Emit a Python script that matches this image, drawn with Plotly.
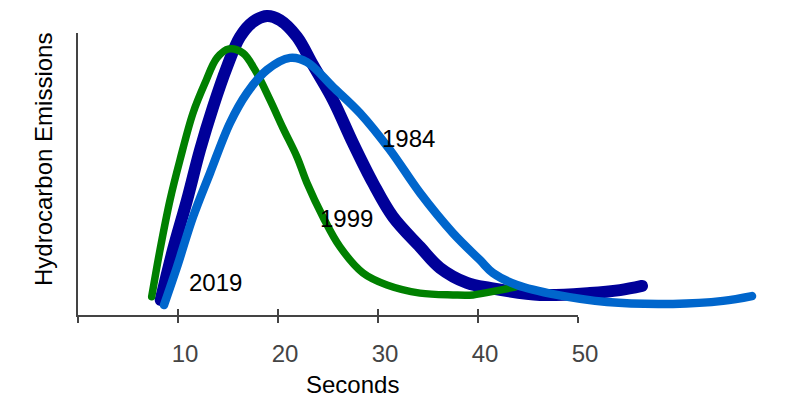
import plotly.graph_objects as go

# ---- data (seconds, emissions index) ----
x_2019 = [7.37, 8.2, 9.2, 10.2, 11.5, 12.7, 13.9, 15.1, 16.5, 17.7, 19.2, 20.5, 21.9, 22.9,
          24.5, 26.2, 28.5, 30.9, 34.2, 37.5, 39.5, 42.2, 43.7]
y_2019 = [6.1, 21.7, 38.3, 51.7, 67.3, 77.3, 85.7, 88.7, 87.3, 81.7, 71.7, 62.3, 52.7, 44,
          32.7, 22.7, 14, 10, 7.3, 6.7, 6.7, 8.3, 9.3]

x_1999 = [8.27, 9.5, 10.9, 12.2, 13.5, 14.9, 16.2, 17.5, 18.9, 20.2, 21.9, 23.5, 25.5, 27.5,
          29.5, 31.5, 34.2, 36.2, 38.9, 41.2, 46.2, 51.2, 54.2, 56.4]
y_1999 = [5, 21.7, 38.3, 55, 69.3, 82.7, 92.7, 97.7, 99.7, 98.3, 92.7, 83.3, 71.7, 57.3,
          44, 32.7, 22.7, 15.7, 10.7, 9, 6.7, 7.3, 8.3, 9.7]

x_1984 = [8.6, 9.9, 11.5, 13.2, 15.2, 16.9, 18.9, 21.2, 22.9, 25.5, 28.2, 31.2, 34.2, 37.5,
          40.2, 41.5, 43.9, 47.9, 52.9, 59.5, 64.5, 67.4]
y_1984 = [3.3, 16, 32.7, 47.3, 64, 74, 81.7, 85.7, 84.3, 76, 67.3, 55, 40.7, 27.3,
          18.3, 14, 10, 6.7, 4.3, 3.7, 4.7, 6.3]

tick_vals = [0, 10, 20, 30, 40, 50]
tick_text = ["", "10", "20", "30", "40", "50"]

labels = ["2019", "1999", "1984"]
label_x = [13.7, 26.85, 33.0]
label_y = [10.7, 32.3, 59.0]

FONT = "Liberation Sans, Arial, sans-serif"
AX = "#444444"

fig = go.Figure()
fig.add_trace(go.Scatter(x=x_1999, y=y_1999, mode="lines", line=dict(color="#000099", width=12, shape="spline", smoothing=1.0)))
fig.add_trace(go.Scatter(x=x_2019, y=y_2019, mode="lines", line=dict(color="#008000", width=7.5, shape="spline", smoothing=1.0)))
fig.add_trace(go.Scatter(x=x_1984, y=y_1984, mode="lines", line=dict(color="#0066CC", width=8.5, shape="spline", smoothing=1.0)))

for t, lx, ly in zip(labels, label_x, label_y):
    fig.add_annotation(x=lx, y=ly, xref="x", yref="y", text=t, showarrow=False,
                       xanchor="center", yanchor="middle",
                       font=dict(family=FONT, size=24, color="#000000"))

fig.add_annotation(x=352.5 / 800, y=(397 - 384) / 397, xref="paper", yref="paper", text="Seconds",
                   showarrow=False, xanchor="center", yanchor="middle",
                   font=dict(family=FONT, size=24, color="#000000"))
fig.add_annotation(x=44 / 800, y=(397 - 160) / 397, xref="paper", yref="paper", text="Hydrocarbon Emissions",
                   textangle=-90, showarrow=False, xanchor="center", yanchor="middle",
                   font=dict(family=FONT, size=24, color="#000000"))

AX_DOM_X = [78 / 800, 578 / 800]
AX_DOM_Y = [(397 - 315) / 397, (397 - 33) / 397]

fig.update_layout(
    width=800, height=397, autosize=False,
    margin=dict(l=0, r=0, t=0, b=0, autoexpand=False),
    paper_bgcolor="white", plot_bgcolor="rgba(0,0,0,0)",
    showlegend=False,
    xaxis=dict(domain=[0, 1], range=[-7.8, 72.2], visible=False, showgrid=False, zeroline=False),
    yaxis=dict(domain=[0, 1], range=[(315 - 397) / 3, 105], visible=False, showgrid=False, zeroline=False),
    xaxis2=dict(domain=AX_DOM_X, range=[0, 50], anchor="y2",
                showline=True, linecolor=AX, linewidth=2, showgrid=False, zeroline=False,
                ticks="outside", ticklen=6, tickwidth=2, tickcolor=AX,
                tickmode="array", tickvals=tick_vals, ticktext=tick_text,
                tickfont=dict(family=FONT, size=24, color=AX), ticklabelshift=7, ticklabelstandoff=10),
    xaxis3=dict(domain=AX_DOM_X, range=[0, 50], anchor="y2",
                showline=False, showgrid=False, zeroline=False,
                ticks="inside", ticklen=6, tickwidth=2, tickcolor=AX,
                tickmode="array", tickvals=tick_vals, showticklabels=False),
    yaxis2=dict(domain=AX_DOM_Y, range=[0, 1], anchor="x2",
                showline=True, linecolor=AX, linewidth=2, showgrid=False, zeroline=False,
                ticks="", showticklabels=False),
)
# invisible helper traces so the helper axes are drawn
fig.add_trace(go.Scatter(x=[0], y=[0], xaxis="x2", yaxis="y2", mode="markers", marker=dict(opacity=0), hoverinfo="skip"))
fig.add_trace(go.Scatter(x=[0], y=[0], xaxis="x3", yaxis="y2", mode="markers", marker=dict(opacity=0), hoverinfo="skip"))

post = (
    "document.documentElement.style.margin='0';document.body.style.margin='0';"
    "document.body.style.overflow='hidden';"
    "var st=document.createElement('style');"
    "st.textContent='.js-line{stroke-linecap:round !important;stroke-linejoin:round !important;}';"
    "document.head.appendChild(st);"
    "var gd=document.getElementById('{plot_id}');"
    "gd.style.width='800px';gd.style.height='397px';"
    "Plotly.relayout(gd,{width:800,height:397});"
)
fig.write_html("out.html", config={"displayModeBar": False, "responsive": False}, post_script=post)
